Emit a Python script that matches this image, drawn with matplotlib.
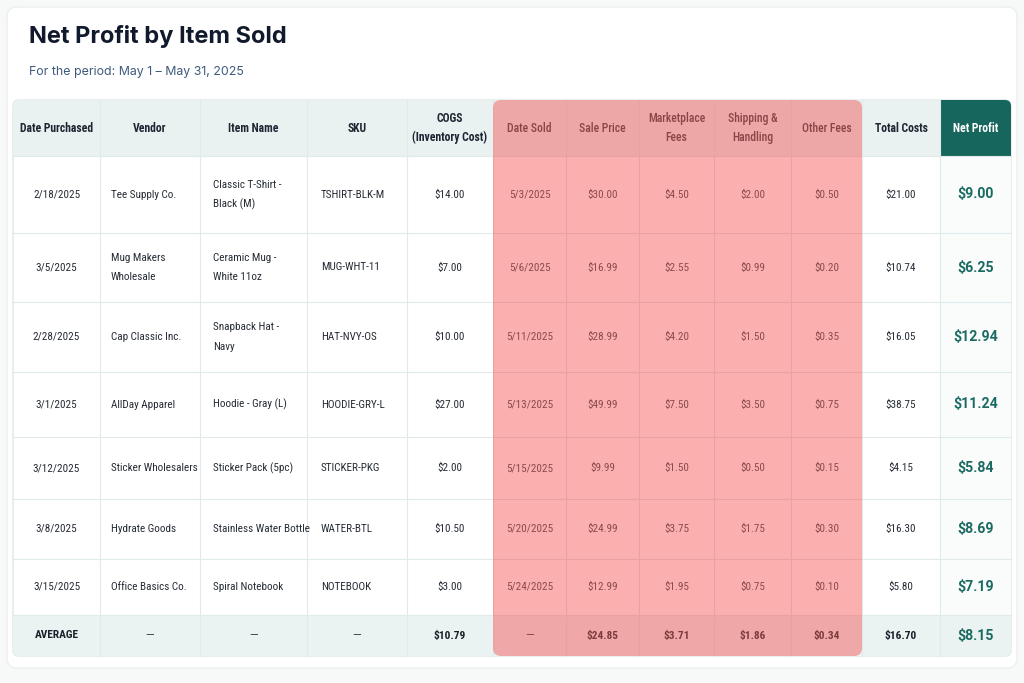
import matplotlib
matplotlib.use("Agg")
import matplotlib.pyplot as plt
from matplotlib.patches import FancyBboxPatch, Rectangle

# ---------------- data ----------------
title = "Net Profit by Item Sold"
subtitle = "For the period: May 1 \u2013 May 31, 2025"

headers = ["Date Purchased", "Vendor", "Item Name", "SKU", "COGS\n(Inventory Cost)",
           "Date Sold", "Sale Price", "Marketplace\nFees", "Shipping &\nHandling",
           "Other Fees", "Total Costs", "Net Profit"]

date_purchased = ["2/18/2025", "3/5/2025", "2/28/2025", "3/1/2025", "3/12/2025", "3/8/2025", "3/15/2025"]
vendors = ["Tee Supply Co.", "Mug Makers\nWholesale", "Cap Classic Inc.", "AllDay Apparel",
           "Sticker Wholesalers", "Hydrate Goods", "Office Basics Co."]
items = ["Classic T-Shirt -\nBlack (M)", "Ceramic Mug -\nWhite 11oz", "Snapback Hat -\nNavy",
         "Hoodie - Gray (L)", "Sticker Pack (5pc)", "Stainless Water Bottle", "Spiral Notebook"]
skus = ["TSHIRT-BLK-M", "MUG-WHT-11", "HAT-NVY-OS", "HOODIE-GRY-L", "STICKER-PKG", "WATER-BTL", "NOTEBOOK"]
cogs = [14.00, 7.00, 10.00, 27.00, 2.00, 10.50, 3.00]
date_sold = ["5/3/2025", "5/6/2025", "5/11/2025", "5/13/2025", "5/15/2025", "5/20/2025", "5/24/2025"]
sale_price = [30.00, 16.99, 28.99, 49.99, 9.99, 24.99, 12.99]
market_fees = [4.50, 2.55, 4.20, 7.50, 1.50, 3.75, 1.95]
shipping = [2.00, 0.99, 1.50, 3.50, 0.50, 1.75, 0.75]
other_fees = [0.50, 0.20, 0.35, 0.75, 0.15, 0.30, 0.10]
total_costs = [21.00, 10.74, 16.05, 38.75, 4.15, 16.30, 5.80]
net_profit = [9.00, 6.25, 12.94, 11.24, 5.84, 8.69, 7.19]

average_label = "AVERAGE"
average_values = ["\u2014", "\u2014", "\u2014", "$10.79", "\u2014", "$24.85", "$3.71",
                  "$1.86", "$0.34", "$16.70", "$8.15"]

# ---------------- layout (pixels) ----------------
W, H = 1024, 683
col_edges = [13, 100, 200, 307, 407, 493, 566, 639, 714, 791, 862, 940, 1011]
row_edges = [100, 156, 233, 302, 372, 437, 499, 559, 615, 656]
align = ["center", "left", "left", "left", "center", "center", "center", "center",
         "center", "center", "center", "center"]
pad_left = [0, 11, 13, 14, 0, 0, 0, 0, 0, 0, 0, 0]
pink_cols = range(5, 10)

BODY_FONT = ["Roboto Condensed", "Roboto", "DejaVu Sans"]
NUM_FONT = ["Roboto", "DejaVu Sans"]
TITLE_FONT = ["Inter", "DejaVu Sans"]
plt.rcParams["font.family"] = BODY_FONT

fig = plt.figure(figsize=(W / 100, H / 100), dpi=100)
fig.patch.set_facecolor("#f7f8f8")
ax = fig.add_axes([0, 0, 1, 1])
ax.set_xlim(0, W)
ax.set_ylim(H, 0)
ax.axis("off")

# card
card = FancyBboxPatch((7, 7), 1010, 661, boxstyle="round,pad=0,rounding_size=10",
                      facecolor="white", edgecolor="#eceff0", lw=1.0, zorder=0)
ax.add_patch(card)

ax.text(29, 37, title, fontsize=17, fontweight="bold", color="#111a2c",
        ha="left", va="center", family=TITLE_FONT)
ax.text(29, 72, subtitle, fontsize=8.9, color="#3e5a7c", ha="left", va="center",
        family=TITLE_FONT)

x0, x1 = col_edges[0], col_edges[-1]
y0, y1 = row_edges[0], row_edges[-1]
outline = FancyBboxPatch((x0, y0), x1 - x0, y1 - y0, boxstyle="round,pad=0,rounding_size=6",
                         facecolor="white", edgecolor="#dde8e8", lw=1.0, zorder=1)
ax.add_patch(outline)


def clipped_rect(x, y, w, h, color, z=1.2):
    r = Rectangle((x, y), w, h, facecolor=color, edgecolor="none", zorder=z)
    ax.add_patch(r)
    r.set_clip_path(outline)
    return r


# header & average backgrounds
clipped_rect(x0, row_edges[0], x1 - x0, row_edges[1] - row_edges[0], "#e9f2f1")
clipped_rect(x0, row_edges[-2], x1 - x0, row_edges[-1] - row_edges[-2], "#eaf3f2")
# net profit header (dark teal)
clipped_rect(col_edges[-2], row_edges[0], col_edges[-1] - col_edges[-2],
             row_edges[1] - row_edges[0], "#17665e", z=1.3)
# net profit body tint
clipped_rect(col_edges[-2], row_edges[1], col_edges[-1] - col_edges[-2],
             row_edges[-2] - row_edges[1], "#fafcfc")

# grid lines
gcol = "#e0eaea"
for xe in col_edges[1:-1]:
    ax.plot([xe, xe], [y0, y1], color=gcol, lw=0.8, zorder=1.5)
for ye in row_edges[1:-1]:
    ax.plot([x0, x1], [ye, ye], color=gcol, lw=0.8, zorder=1.5)

# pink overlay
pink = FancyBboxPatch((col_edges[5], y0), col_edges[10] - col_edges[5], y1 - y0,
                      boxstyle="round,pad=0,rounding_size=8",
                      facecolor=(0.97, 0.22, 0.22), alpha=0.4, edgecolor="none", zorder=2)
ax.add_patch(pink)

LINE = 19.5
BS = 8.0


def put(col, yc, s, color, size, weight="normal", ha=None, family=None):
    a = ha or align[col]
    if a == "left":
        x = col_edges[col] + pad_left[col]
    else:
        x = (col_edges[col] + col_edges[col + 1]) / 2
    lines = s.split("\n")
    n = len(lines)
    for i, ln in enumerate(lines):
        yy = yc + (i - (n - 1) / 2) * LINE
        ax.text(x, yy, ln, ha=a, va="center", fontsize=size, color=color,
                fontweight=weight, zorder=3, family=family or BODY_FONT)


# header texts
hy = (row_edges[0] + row_edges[1]) / 2
for c, h in enumerate(headers):
    if c in pink_cols:
        col, wt = "#8a4646", "medium"
    elif c == 11:
        col, wt = "white", "semibold"
    else:
        col, wt = "#1e2633", "semibold"
    put(c, hy, h, col, 8.4, wt, ha="center")

money = lambda v: f"${v:,.2f}"
body = "#262c35"
pinktxt = "#8c4b4b"
for r in range(len(date_purchased)):
    yc = (row_edges[r + 1] + row_edges[r + 2]) / 2
    put(0, yc, date_purchased[r], body, BS)
    put(1, yc, vendors[r], body, BS)
    put(2, yc, items[r], body, BS)
    put(3, yc, skus[r], body, BS)
    put(4, yc, money(cogs[r]), body, BS)
    put(5, yc, date_sold[r], pinktxt, BS)
    put(6, yc, money(sale_price[r]), pinktxt, BS)
    put(7, yc, money(market_fees[r]), pinktxt, BS)
    put(8, yc, money(shipping[r]), pinktxt, BS)
    put(9, yc, money(other_fees[r]), pinktxt, BS)
    put(10, yc, money(total_costs[r]), body, BS)
    put(11, yc, money(net_profit[r]), "#1b6a61", 10.2, "bold", family=NUM_FONT)

ya = (row_edges[-2] + row_edges[-1]) / 2
put(0, ya, average_label, "#1a202a", 8.2, "bold")
for i, v in enumerate(average_values):
    c = i + 1
    if v == "\u2014":
        colr = "#7d3c3c" if c in pink_cols else "#262c35"
        put(c, ya, v, colr, 8.0, ha="center", family=NUM_FONT)
    elif c in pink_cols:
        put(c, ya, v, "#7d3c3c", 8.2, "bold")
    elif c == 11:
        put(c, ya, v, "#1b6a61", 10.2, "bold", family=NUM_FONT)
    else:
        put(c, ya, v, "#1a202a", 8.2, "bold")

fig.savefig("out.png", dpi=100, facecolor=fig.get_facecolor())
